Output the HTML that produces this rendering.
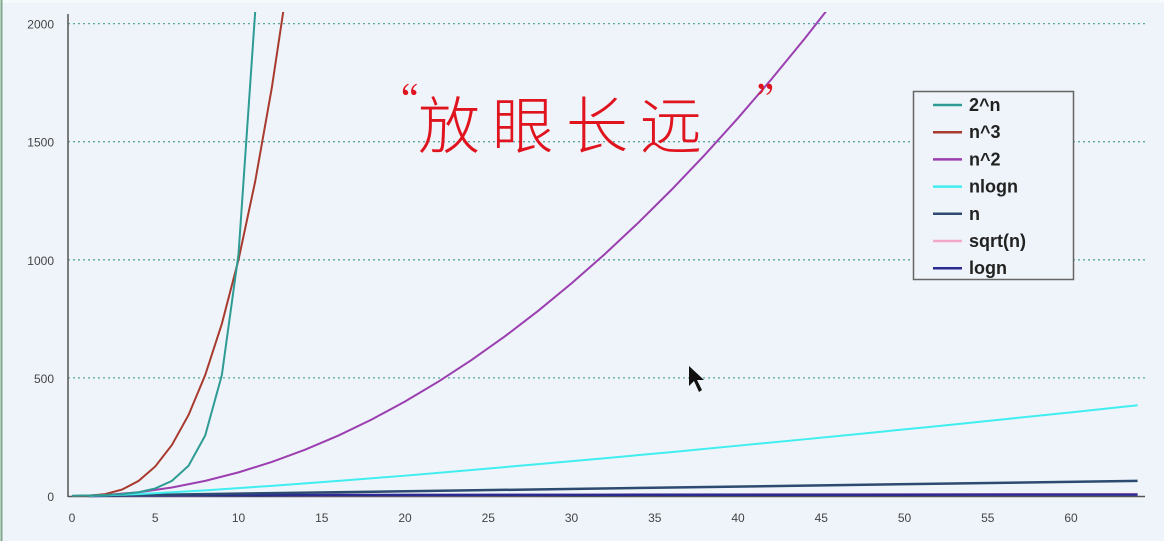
<!DOCTYPE html>
<html><head><meta charset="utf-8"><style>
html,body{margin:0;padding:0;background:#eef4fa;}
svg{display:block;font-family:"Liberation Sans",sans-serif;}
</style></head><body>
<svg id="chart" width="1164" height="541">
<rect x="0" y="0" width="1164" height="541" fill="#eef4fa"/>
<rect x="0" y="0" width="1164" height="3" fill="#f7fafd"/>
<line x1="1.5" y1="0" x2="1.5" y2="541" stroke="#7fa88a" stroke-width="2"/>
<g id="grid"></g>
<g id="axes"></g>
<defs><clipPath id="clip"><rect x="68" y="12" width="1090" height="490"/></clipPath></defs>
<g id="series" clip-path="url(#clip)"></g>
<g id="legend"></g>
<text x="380" y="118" font-size="40" fill="#e0141e" font-family="'Noto Serif CJK SC',serif">“</text>
<text x="418" y="148" font-size="62" fill="#e0141e" font-family="'Liberation Sans','Noto Sans CJK SC',sans-serif" font-weight="300" letter-spacing="12">放眼长远</text>
<text x="755" y="118" font-size="40" fill="#e0141e" font-family="'Noto Serif CJK SC',serif">”</text>
<polygon points="689,366 689,386 694,381 699,392 702,390 697,380 704,380" fill="#111"/>
</svg>
<script>
const yTicks=[0,500,1000,1500,2000];
const xTicks=[0,5,10,15,20,25,30,35,40,45,50,55,60];
const seriesNames=["2^n","n^3","n^2","nlogn","n","sqrt(n)","logn"];
const seriesColors=["#2e9c94","#a83a2e","#9b3fb0","#40eef0","#2d4a70","#f4a8c8","#2a2a90"];
const xPow2=[0,1,2,3,4,5,6,7,8,9,10,11,12];
const yPow2=[1,2,4,8,16,32,64,128,256,512,1024,2048,4096];
const xCube=[0,1,2,3,4,5,6,7,8,9,10,11,12,13];
const yCube=[0,1,8,27,64,125,216,343,512,729,1000,1331,1728,2197];
const xSq=[0,2,4,6,8,10,12,14,16,18,20,22,24,26,28,30,32,34,36,38,40,42,44,46];
const ySq=[0,4,16,36,64,100,144,196,256,324,400,484,576,676,784,900,1024,1156,1296,1444,1600,1764,1936,2116];
const xNlog=[1,4,8,12,16,20,24,28,32,36,40,44,48,52,56,60,64];
const yNlog=[0,8,24,43,64,86,110,135,160,186,213,240,268,296,325,354,384];
const xLin=[1,64];
const yLin=[1,64];
const xSqrt=[1,4,16,36,64];
const ySqrt=[1,2,4,6,8];
const xLog=[1,2,4,8,16,32,64];
const yLog=[0,1,2,3,4,5,6];

const NS="http://www.w3.org/2000/svg";
const X=v=>72+v*16.65;
const Y=v=>496-v*0.2362;
function mk(tag,parent,attrs){const e=document.createElementNS(NS,tag);for(const k in attrs)e.setAttribute(k,attrs[k]);parent.appendChild(e);return e;}
const grid=document.getElementById('grid'),axes=document.getElementById('axes'),ser=document.getElementById('series'),leg=document.getElementById('legend');
yTicks.forEach(t=>{
  if(t>0){const g=mk('line',grid,{x1:68,x2:1145,y1:Y(t),y2:Y(t),stroke:'#5aa8a0','stroke-width':1.3,'stroke-dasharray':'2,3'});
  
  }
  const tx=mk('text',axes,{x:54,y:Y(t)+5,'font-size':12,fill:'#444','text-anchor':'end'});tx.textContent=t;
  
  
});
xTicks.forEach(t=>{
  const tx=mk('text',axes,{x:X(t),y:522,'font-size':12,fill:'#444','text-anchor':'middle'});tx.textContent=t;
  
  
});
const ya=mk('line',axes,{x1:68,x2:68,y1:14,y2:497,stroke:'#555','stroke-width':1.5});


const xa=mk('line',axes,{x1:68,x2:1145,y1:496.5,y2:496.5,stroke:'#555','stroke-width':1.5});


const data=[[xPow2,yPow2],[xCube,yCube],[xSq,ySq],[xNlog,yNlog],[xLin,yLin],[xSqrt,ySqrt],[xLog,yLog]];
const order=[5,6,4,3,2,1,0];
order.forEach(i=>{
  const [xs,ys]=data[i];
  const p=mk('polyline',ser,{points:xs.map((x,j)=>X(x)+','+Y(ys[j])).join(' '),fill:'none',stroke:seriesColors[i],'stroke-width':i>=4?2.5:2});
  
  
});
const box=mk('rect',leg,{x:913.5,y:91.5,width:160,height:188,fill:'#eef4fa',stroke:'#666','stroke-width':1.5});


seriesNames.forEach((n,i)=>{
  const y=105+i*27.2;
  const l=mk('line',leg,{x1:933,x2:962,y1:y,y2:y,stroke:seriesColors[i],'stroke-width':2.5});
  
  
  const t=mk('text',leg,{x:969,y:y+6,'font-size':18,'font-weight':'bold',fill:'#222'});t.textContent=n;
  
  
});
</script>
</body></html>
